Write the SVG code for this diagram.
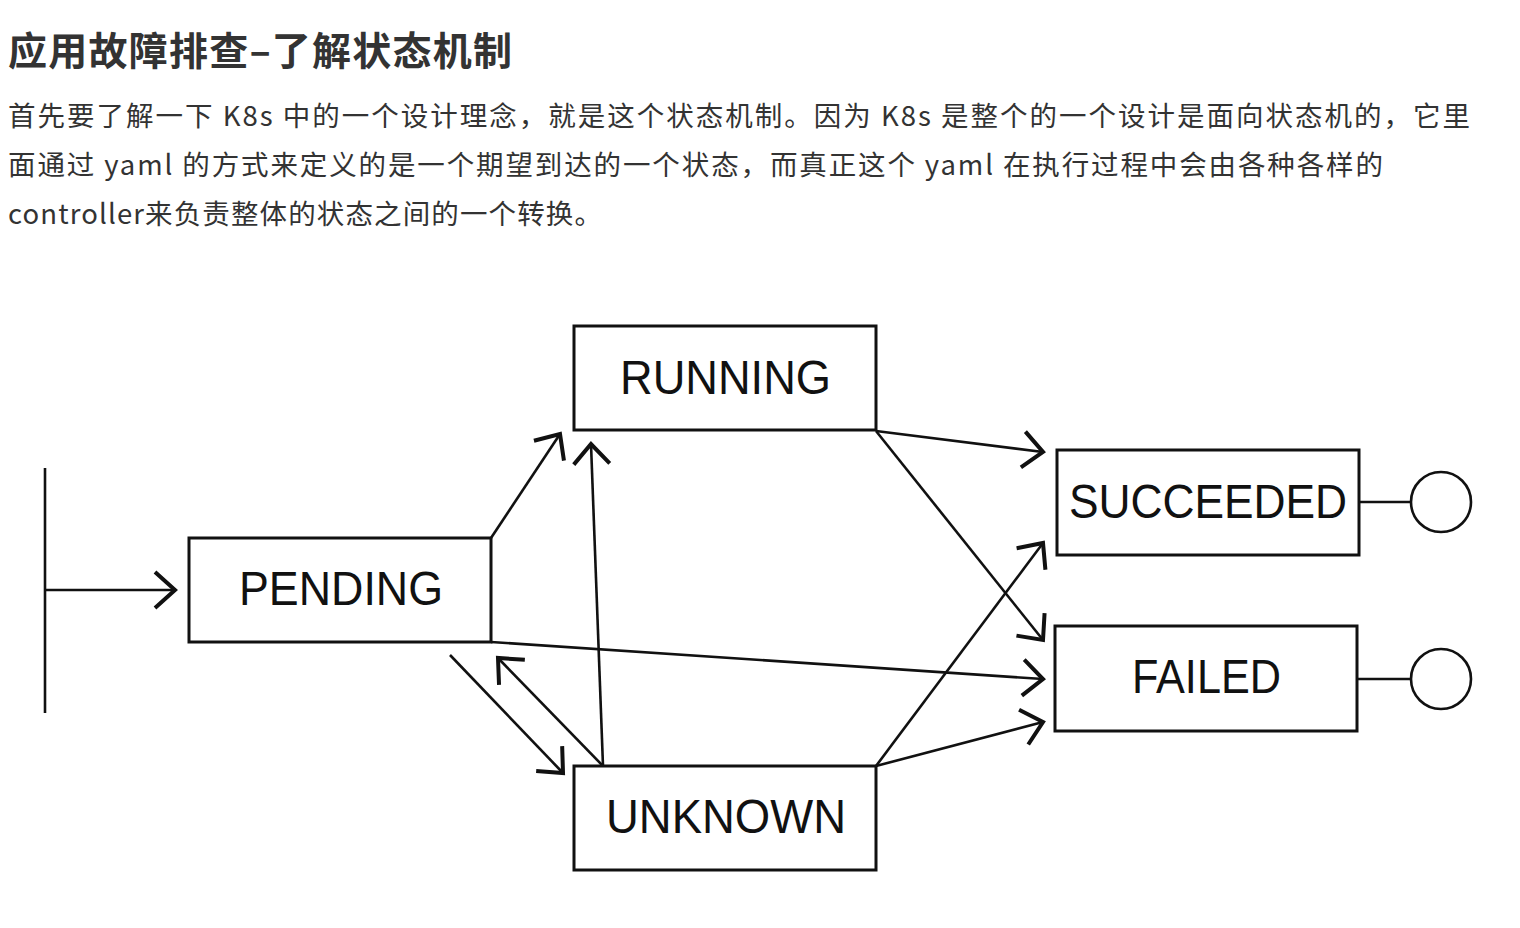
<svg xmlns="http://www.w3.org/2000/svg" width="1520" height="928" viewBox="0 0 1520 928">
<style>
.title{font-family:"Noto Sans CJK SC","Noto Sans",sans-serif;font-weight:bold;font-size:39px;fill:#333}
.body{font-family:"Noto Sans CJK SC","Noto Sans",sans-serif;font-size:27.5px;fill:#333}
.box{fill:#fff;stroke:#111;stroke-width:3}
.lbl{font-family:"Liberation Sans",Arial,sans-serif;font-size:48px;fill:#111}
.edge{fill:none;stroke:#111;stroke-width:2.6}
.plain{fill:none;stroke:#111;stroke-width:2.6}
.end{fill:#fff;stroke:#111;stroke-width:2.6}
</style>
<defs>
<marker id="arr" markerUnits="userSpaceOnUse" markerWidth="40" markerHeight="40" refX="0" refY="0" orient="auto" overflow="visible">
<path d="M-20,-18 L0,0 L-20,18" fill="none" stroke="#111" stroke-width="4" stroke-linejoin="miter"/>
</marker>
</defs>
<rect width="1520" height="928" fill="#fff"/>
<g id="heading">
<text class="title" x="8" y="65" textLength="504" lengthAdjust="spacing">应用故障排查–了解状态机制</text>
</g>
<g id="paragraph">
<text class="body" x="8" y="126" textLength="1462" lengthAdjust="spacing">首先要了解一下 K8s 中的一个设计理念，就是这个状态机制。因为 K8s 是整个的一个设计是面向状态机的，它里</text>
<text class="body" x="8" y="175" textLength="1375" lengthAdjust="spacing">面通过 yaml 的方式来定义的是一个期望到达的一个状态，而真正这个 yaml 在执行过程中会由各种各样的</text>
<text class="body" x="8" y="224" textLength="594" lengthAdjust="spacing">controller来负责整体的状态之间的一个转换。</text>
</g>
<g id="connectors">
<line class="plain" x1="45" y1="468" x2="45" y2="713"/>
<line class="edge" x1="45" y1="590" x2="175" y2="590" marker-end="url(#arr)"/>
<line class="edge" x1="491" y1="538" x2="560" y2="434" marker-end="url(#arr)"/>
<line class="edge" x1="603" y1="766" x2="591" y2="444" marker-end="url(#arr)"/>
<line class="edge" x1="450" y1="655" x2="563" y2="773" marker-end="url(#arr)"/>
<line class="edge" x1="603" y1="766" x2="498" y2="658" marker-end="url(#arr)"/>
<line class="edge" x1="491" y1="642" x2="1043" y2="679" marker-end="url(#arr)"/>
<line class="edge" x1="876" y1="431" x2="1043" y2="452" marker-end="url(#arr)"/>
<line class="edge" x1="876" y1="431" x2="1043" y2="640" marker-end="url(#arr)"/>
<line class="edge" x1="876" y1="766" x2="1043" y2="543" marker-end="url(#arr)"/>
<line class="edge" x1="876" y1="766" x2="1043" y2="722" marker-end="url(#arr)"/>
<line class="plain" x1="1359" y1="502" x2="1410" y2="502"/>
<line class="plain" x1="1357" y1="679" x2="1410" y2="679"/>
</g>
<g id="running">
<rect class="box" x="574" y="326" width="302" height="104"/>
<text class="lbl" x="620" y="394" textLength="211" lengthAdjust="spacingAndGlyphs">RUNNING</text>
</g>
<g id="pending">
<rect class="box" x="189" y="538" width="302" height="104"/>
<text class="lbl" x="239" y="605" textLength="204" lengthAdjust="spacingAndGlyphs">PENDING</text>
</g>
<g id="unknown">
<rect class="box" x="574" y="766" width="302" height="104"/>
<text class="lbl" x="606" y="833" textLength="240" lengthAdjust="spacingAndGlyphs">UNKNOWN</text>
</g>
<g id="succeeded">
<rect class="box" x="1057" y="450" width="302" height="105"/>
<text class="lbl" x="1069" y="518" textLength="278" lengthAdjust="spacingAndGlyphs">SUCCEEDED</text>
</g>
<g id="failed">
<rect class="box" x="1055" y="626" width="302" height="105"/>
<text class="lbl" x="1132" y="693" textLength="149" lengthAdjust="spacingAndGlyphs">FAILED</text>
</g>
<g id="end-succeeded">
<circle class="end" cx="1441" cy="502" r="30"/>
</g>
<g id="end-failed">
<circle class="end" cx="1441" cy="679" r="30"/>
</g>
</svg>
